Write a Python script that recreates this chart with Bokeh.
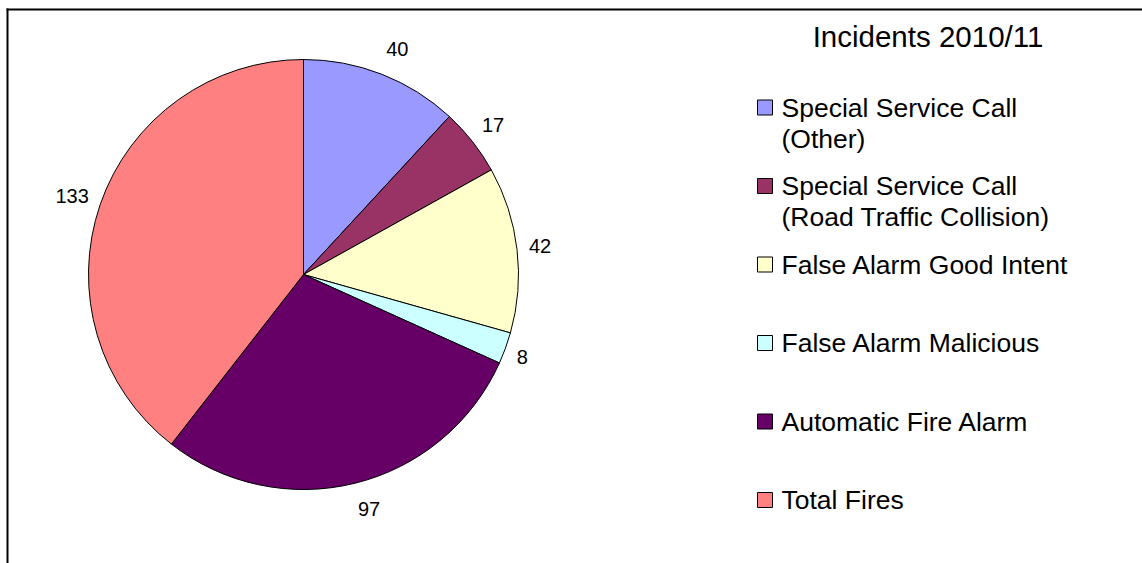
import math
from bokeh.plotting import figure
from bokeh.models import Range1d
from bokeh.core.properties import value
from bokeh.embed import file_html
from bokeh.resources import INLINE

title = "Incidents 2010/11"
categories = [
    "Special Service Call\n(Other)",
    "Special Service Call\n(Road Traffic Collision)",
    "False Alarm Good Intent",
    "False Alarm Malicious",
    "Automatic Fire Alarm",
    "Total Fires",
]
values = [40, 17, 42, 8, 97, 133]
colors = ["#9999FF", "#993366", "#FFFFCC", "#CCFFFF", "#660066", "#FF8080"]

FONT = "Liberation Sans"
W, H = 1142, 563


def X(px):
    return px


def Y(py):
    return H - py


p = figure(width=W, height=H, x_range=Range1d(0, W), y_range=Range1d(0, H),
           output_backend="svg", toolbar_location=None, min_border=0)
p.axis.visible = False
p.grid.visible = False
p.outline_line_color = None
p.background_fill_color = "white"
p.border_fill_color = "white"

# chart frame (only left and top edges are visible in the window), drawn as thin filled bars
p.quad(left=[X(6), X(6)], right=[X(8), X(W)], top=[Y(8), Y(8)], bottom=[Y(H), Y(10)],
       fill_color="black", line_color=None)

# pie
total = sum(values)
starts, ends, mids = [], [], []
cum = 0
for v in values:
    a0 = cum / total
    cum += v
    a1 = cum / total
    starts.append(math.pi / 2 - 2 * math.pi * a0)
    ends.append(math.pi / 2 - 2 * math.pi * a1)
    mids.append(math.pi / 2 - 2 * math.pi * (a0 + a1) / 2)

cx, cy, R = X(303), Y(274), 215
p.wedge(x=cx, y=cy, radius=R, start_angle=starts, end_angle=ends, direction="clock",
        fill_color=colors, line_color="black", line_width=1)

# data labels placed just outside the slices
LFS = 20
gap = 227
lx, ly = [], []
for v, m in zip(values, mids):
    w = len(str(v)) * 0.556 * LFS
    c, s = math.cos(m), math.sin(m)
    lx.append(cx + c * gap + math.copysign(w / 2, c))
    ly.append(cy + s * (gap + 15))
p.text(x=lx, y=ly, text=[str(v) for v in values], text_font=value(FONT),
       text_font_size=f"{LFS}px", text_align="center", text_baseline="middle", text_color="black")

# title
p.text(x=[X(927.5)], y=[Y(36)], text=[title], text_font=value(FONT), text_font_size="29.5px",
       text_align="center", text_baseline="middle", text_color="black")

# legend
mid0, step, line_gap = 107, 78.5, 31
sq = 15
for i, (lab, col) in enumerate(zip(categories, colors)):
    m = mid0 + step * i
    p.quad(left=X(757), right=X(757 + sq), top=Y(m - sq / 2), bottom=Y(m + sq / 2),
           fill_color=col, line_color="black", line_width=1)
    for j, line in enumerate(lab.split("\n")):
        p.text(x=[X(781)], y=[Y(m + line_gap * j)], text=[line], text_font=value(FONT),
               text_font_size="26.5px", text_align="left", text_baseline="middle",
               text_color="black")

open("out.html", "w").write(file_html(p, INLINE))
